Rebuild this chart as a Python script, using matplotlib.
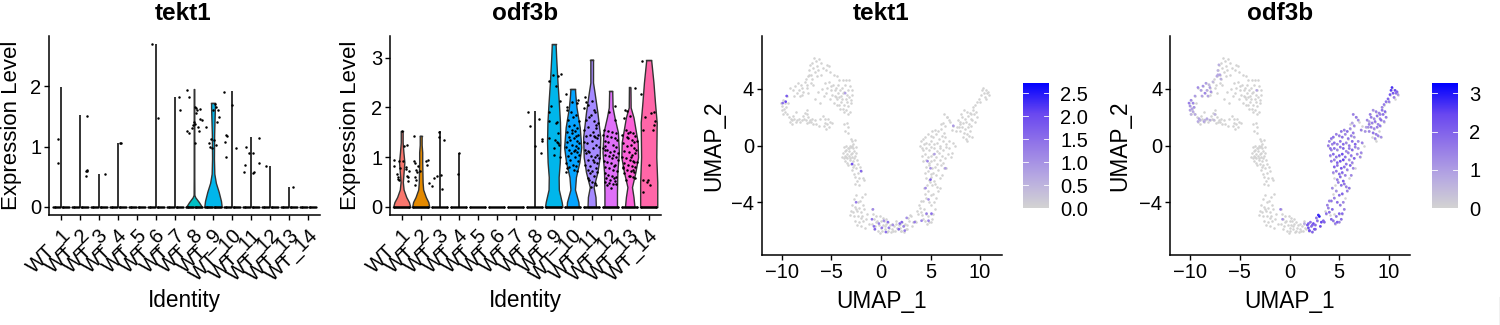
import numpy as np
import matplotlib
matplotlib.use("Agg")
import matplotlib.pyplot as plt
from matplotlib.colors import LinearSegmentedColormap
from matplotlib.lines import Line2D

plt.rcParams['font.family'] = ['Liberation Sans', 'DejaVu Sans']

groups = ['WT_%d' % i for i in range(1, 15)]
group_colors = ['#F8766D', '#E38900', '#C49A00', '#99A800', '#53B400', '#00BC56', '#00C094',
                '#00BFC4', '#00B6EB', '#06A4FF', '#A58AFF', '#DF70F8', '#FB61D7', '#FF66A8']

zero_offsets = [-0.43, -0.38, -0.34, -0.29, -0.25, -0.21, -0.15, -0.1, -0.04, 0.03, 0.08, 0.13,
                0.18, 0.22, 0.27, 0.32, 0.36, 0.41]

# highest value per group, drawn as the thin violin line
tekt1_tops = [1.98, 1.52, 0.55, 1.05, 0, 2.7, 1.82, 1.95, 1.72, 1.92, 1.15, 0.68, 0.33, 0]
odf3b_tops = [1.52, 1.43, 1.52, 1.08, 0, 0, 0, 1.92, 3.27, 2.37, 2.96, 2.33, 2.4, 2.95]

# violin outlines: group index -> levels and half widths
tekt1_levels = {7: [0, 0.08, 0.16, 0.2, 0.5, 1.0, 1.95],
                8: [0, 0.1, 0.25, 0.4, 0.55, 0.8, 1.2, 1.65, 1.72]}
tekt1_widths = {7: [0.42, 0.26, 0.07, 0.02, 0.015, 0.015, 0.015],
                8: [0.46, 0.42, 0.3, 0.15, 0.07, 0.05, 0.06, 0.1, 0.1]}
odf3b_levels = {0: [0, 0.1, 0.2, 0.35, 0.5, 0.7, 0.9, 1.1, 1.3, 1.52],
                1: [0, 0.1, 0.2, 0.35, 0.5, 0.7, 0.9, 1.1, 1.25, 1.43],
                8: [0, 0.1, 0.35, 0.6, 0.9, 1.3, 1.7, 2.1, 2.5, 3.0, 3.27],
                9: [0, 0.1, 0.35, 0.6, 0.9, 1.2, 1.6, 2.0, 2.25, 2.37],
                10: [0, 0.2, 0.4, 0.7, 1.0, 1.4, 1.9, 2.3, 2.5, 2.96],
                11: [0, 0.3, 0.7, 1.1, 1.5, 1.8, 2.0, 2.33],
                12: [0, 0.2, 0.4, 0.7, 1.0, 1.3, 1.8, 2.0, 2.4],
                13: [0, 0.5, 1.0, 1.7, 2.1, 2.5, 2.8, 2.95]}
odf3b_widths = {0: [0.45, 0.38, 0.24, 0.1, 0.06, 0.1, 0.14, 0.09, 0.05, 0.05],
                1: [0.45, 0.4, 0.27, 0.13, 0.1, 0.09, 0.08, 0.08, 0.05, 0.05],
                8: [0.46, 0.42, 0.27, 0.26, 0.32, 0.35, 0.33, 0.27, 0.2, 0.13, 0.1],
                9: [0.32, 0.3, 0.12, 0.17, 0.35, 0.45, 0.37, 0.2, 0.14, 0.12],
                10: [0.22, 0.2, 0.1, 0.3, 0.42, 0.45, 0.3, 0.15, 0.07, 0.07],
                11: [0.33, 0.33, 0.35, 0.43, 0.38, 0.2, 0.1, 0.08],
                12: [0.25, 0.2, 0.12, 0.3, 0.44, 0.42, 0.2, 0.05, 0.04],
                13: [0.45, 0.45, 0.4, 0.42, 0.33, 0.25, 0.17, 0.13]}

# jittered non-zero cells: group index -> offsets and values
tekt1_dx = {0: [-0.16, -0.16], 1: [0.35, 0.3, 0.35, 0.34, 0.37], 2: [0.32], 3: [0.1, 0.14],
            5: [-0.2, 0.08], 6: [0.2, 0.28],
            7: [-0.35, -0.28, -0.25, -0.38, 0.06, 0.12, 0.18, 0.3, 0.32, 0.4, 0.04, -0.05, -0.1, 0.09,
                0.2, 0.28, 0.05, 0.01],
            8: [-0.35, -0.2, -0.15, -0.1, 0.1, 0.18, 0.25, 0.3, 0.05, 0.15, 0.22, -0.05, 0.0],
            9: [-0.4, -0.35, -0.33, -0.3, -0.26, -0.02, 0.22],
            10: [-0.38, -0.3, -0.27, -0.08, 0.08, 0.1, 0.15, 0.4, 0.4], 11: [-0.22], 12: [0.2]}
tekt1_dv = {0: [1.13, 0.73], 1: [1.51, 0.6, 0.61, 0.51, 0.6], 2: [0.54], 3: [1.05, 1.05],
            5: [2.69, 1.47], 6: [1.81, 1.6],
            7: [1.94, 1.82, 1.23, 1.25, 1.65, 1.63, 1.6, 1.62, 1.45, 1.43, 1.38, 1.35, 1.3, 1.55,
                1.33, 1.25, 1.05, 1.4],
            8: [1.33, 1.05, 1.0, 1.13, 1.7, 1.65, 1.6, 1.48, 1.1, 1.02, 1.4, 0.98, 1.6],
            9: [1.9, 1.08, 0.82, 1.19, 1.18, 1.69, 0.97],
            10: [0.58, 0.7, 1.0, 0.9, 0.89, 0.57, 0.58, 1.14, 0.72], 11: [0.67], 12: [0.33]}
odf3b_dx = {0: [-0.4, -0.38, -0.25, -0.22, -0.2, -0.15, -0.12, 0.02, 0.1, 0.22, 0.25, 0.3, 0.33, 0.35, 0.05,
                0.28, 0.38, -0.08],
            1: [-0.35, -0.33, -0.28, -0.25, -0.22, -0.28, -0.3, -0.15, -0.05, 0.3, 0.38, 0.35, 0.43, 0.62, -0.27],
            2: [-0.15, -0.28, -0.05, 0.08, 0.1, 0.24, -0.02],
            3: [0.0, -0.05], 7: [-0.35, -0.27, 0.02, 0.2, 0.32, 0.37, 0.4],
            8: [-0.23, -0.05, 0.23, 0.37, 0.12, 0.35, -0.14, -0.26, -0.23, 0.12, 0.23, -0.23, 0.07, 0.2, 0.28, 0.16,
                0.03, 0.32, 0.03, 0.18],
            9: [-0.37, -0.05, 0.3, -0.3, -0.1, 0.2, -0.25, 0.02, 0.33, -0.2, 0.08, 0.25, -0.3, 0.12, -0.05, 0.3, 0.18,
                -0.22, -0.12, 0.05, 0.22, 0.35, -0.28, -0.02, 0.15, 0.28, -0.35, -0.18, 0.08, -0.08, 0.2, 0.32, -0.25,
                0.1, -0.12, 0.27, -0.33, 0.02, 0.15, -0.2, 0.06, 0.22, -0.32, -0.34, -0.28, 0.18, -0.03, 0.12],
            10: [-0.33, -0.3, -0.22, 0.04, 0.12, -0.05, 0.18, -0.4, -0.28, -0.15, 0.1, 0.25, 0.33, -0.38, -0.2, 0.05, 0.2,
                 0.35, -0.3, -0.1, 0.15, 0.28, -0.42, -0.25, 0.0, 0.22, 0.4, -0.35, -0.18, 0.08, 0.3, -0.28, -0.05, 0.17,
                 0.37, -0.22, 0.1, 0.3, -0.35, -0.08, 0.2, -0.2, 0.03, 0.27, -0.1, 0.13, -0.22, -0.12, 0.02, 0.18, 0.25,
                 -0.05, 0.1, -0.15, 0.05],
            11: [0.22, -0.1, 0.2, -0.33, -0.15, 0.05, 0.28, -0.38, -0.22, 0.0, 0.2, 0.35, -0.32, -0.12, 0.1, 0.3, -0.38,
                 -0.22, -0.03, 0.17, 0.4, -0.3, -0.1, 0.08, 0.28, 0.38, -0.35, -0.18, 0.02, 0.22, -0.28, -0.08, 0.13, 0.33,
                 -0.3, -0.12, 0.07, 0.28, -0.25, -0.05, 0.2, -0.3, -0.1, 0.1, 0.3, -0.22, 0.02, 0.15, -0.32, -0.28, 0.1, 0.18],
            12: [0.27, -0.25, -0.15, 0.0, -0.32, -0.2, 0.03, 0.15, 0.28, -0.38, -0.1, 0.1, 0.25, 0.4, -0.35, -0.15, 0.05,
                 0.22, 0.35, -0.3, -0.05, 0.12, 0.3, -0.4, -0.22, 0.02, 0.18, 0.38, -0.28, -0.1, 0.1, 0.27, -0.35, -0.12,
                 0.05, 0.23, -0.3, -0.05, 0.15, 0.3, -0.22, 0.0, 0.18, -0.15, 0.07, 0.25, -0.35, -0.1],
            13: [-0.33, -0.38, 0.12, 0.3, 0.35, -0.28, 0.3, 0.2, -0.18, 0.0, -0.32, -0.1, -0.3, -0.05, 0.05]}
odf3b_dv = {0: [0.95, 0.82, 0.66, 0.6, 0.57, 0.93, 0.55, 1.52, 1.22, 0.8, 0.76, 0.62, 0.6, 0.52, 0.92, 1.25, 0.72, 0.78],
            1: [1.43, 0.92, 0.88, 0.75, 0.7, 0.6, 0.45, 0.82, 0.72, 0.92, 0.95, 0.85, 0.49, 0.43, 0.55],
            2: [0.62, 0.58, 1.5, 0.65, 0.36, 1.35, 1.4],
            3: [1.08, 0.67], 7: [1.91, 1.63, 1.23, 1.76, 1.08, 1.32, 1.36],
            8: [2.54, 2.66, 2.64, 2.68, 2.43, 2.12, 2.02, 1.9, 1.72, 1.68, 1.48, 1.39, 1.34, 1.29, 1.25, 1.3, 1.04,
                1.0, 1.19, 1.7],
            9: [2.27, 2.1, 2.15, 1.95, 1.9, 2.08, 1.75, 1.8, 1.72, 1.62, 1.65, 1.58, 1.5, 1.52, 1.55, 1.45, 1.42, 1.4,
                1.35, 1.38, 1.33, 1.28, 1.3, 1.25, 1.22, 1.18, 1.2, 1.15, 1.12, 1.08, 1.1, 1.05, 1.02, 1.0, 0.95, 0.92,
                0.88, 0.85, 0.82, 0.8, 0.75, 0.72, 0.78, 0.7, 2.0, 1.85, 1.48, 1.15],
            10: [2.2, 2.1, 2.05, 2.12, 1.95, 1.85, 1.9, 1.98, 1.75, 1.8, 1.72, 1.65, 1.68, 1.55, 1.6, 1.5, 1.58, 1.45,
                 1.42, 1.44, 1.4, 1.38, 1.3, 1.28, 1.32, 1.25, 1.2, 1.15, 1.12, 1.18, 1.05, 1.08, 1.02, 1.0, 0.98, 0.95,
                 0.9, 0.88, 0.85, 0.82, 0.78, 0.75, 0.72, 0.7, 0.68, 0.62, 0.58, 0.55, 0.5, 0.48, 0.45, 0.4, 1.42, 1.1,
                 0.95],
            11: [2.03, 1.9, 1.75, 1.55, 1.52, 1.5, 1.48, 1.45, 1.42, 1.4, 1.38, 1.35, 1.32, 1.3, 1.25, 1.2, 1.18, 1.15,
                 1.1, 1.12, 1.08, 1.05, 1.02, 0.98, 1.0, 0.95, 0.92, 0.9, 0.88, 0.85, 0.8, 0.78, 0.75, 0.72, 0.68, 0.65,
                 0.62, 0.6, 0.58, 0.55, 0.52, 0.5, 0.48, 0.46, 0.47, 0.45, 0.38, 0.58, 1.22, 1.15, 1.05, 0.82],
            12: [2.39, 1.95, 1.92, 1.82, 1.78, 1.55, 1.5, 1.48, 1.42, 1.45, 1.38, 1.35, 1.3, 1.32, 1.28, 1.22, 1.25,
                 1.18, 1.15, 1.12, 1.1, 1.05, 1.08, 1.0, 0.98, 0.95, 0.92, 0.9, 0.88, 0.85, 0.82, 0.8, 0.78, 0.75, 0.72,
                 0.7, 0.68, 0.62, 0.6, 0.58, 0.55, 0.62, 0.75, 1.4, 1.0, 0.9, 0.8, 1.48],
            13: [2.93, 2.27, 1.88, 1.9, 1.72, 1.55, 1.65, 1.55, 1.8, 0.84, 0.3, 0.5, 0.55, 0.55, 0.45]}

# cell embedding, read region by region
left_x = [-10.1, -10.0, -9.9, -9.8, -9.7, -9.5, -9.6, -9.4, -10.0, -9.7,
          -9.9, -9.5, -9.3, -9.1, -9.0, -8.8, -8.6, -8.9, -8.5, -8.3,
          -8.2, -8.0, -7.8, -7.6, -7.9, -7.5, -7.3, -7.5, -7.7, -7.2,
          -9.2, -8.9, -8.7, -8.5, -8.3, -8.1, -7.9, -8.8, -8.4, -8.0,
          -7.7, -7.5, -7.3, -7.0, -7.2, -6.9, -6.7, -6.5, -6.2, -6.0,
          -6.9, -7.1, -6.4, -5.8, -5.4, -5.2, -5.5, -6.6, -7.2, -7.0,
          -6.4, -6.0, -7.3, -6.8, -5.1, -4.7, -4.4, -4.2, -3.8, -3.5,
          -3.2, -3.6, -3.1, -3.9, -4.3, -2.9, -3.3, -3.7, -2.9, -3.2,
          -3.5, -4.0, -4.3, -4.6, -5.0, -5.4, -5.6, -5.2, -5.0, -5.5,
          -5.1, -4.7, -4.2, -3.7, -3.3, -3.0, -3.5, -3.7, -4.1, -4.6,
          -5.7, -6.3, -6.6, -6.1, -7.0, -6.8, -5.9, -7.4, -6.5, -6.1,
          -5.6, -5.2, -5.5, -5.3, -5.6, -5.1, -4.9, -5.4, -5.7, -6.2,
          -6.6, -6.9, -4.4, -4.0, -3.4, -3.0, -3.8, -3.1, -4.4, -5.8,
          -8.0, -7.6, -7.4, -6.8, -6.3, -4.8, -4.5, -4.1, -3.9, -3.4,
          -4.9, -4.5, -4.2, -3.8, -3.3, -8.2, -7.1, -8.6, -9.2, -9.0]
left_y = [3.0, 2.8, 3.2, 2.6, 3.0, 3.5, 2.7, 3.0, 2.5, 2.4,
          2.2, 2.2, 2.0, 1.9, 1.8, 1.9, 1.7, 2.1, 1.8, 1.9,
          1.7, 1.8, 1.9, 1.8, 2.1, 2.2, 2.0, 2.5, 2.3, 1.7,
          4.1, 3.9, 4.2, 3.7, 3.9, 4.3, 3.8, 3.5, 4.4, 3.6,
          4.5, 4.1, 3.7, 4.4, 5.0, 4.7, 6.2, 6.0, 6.1, 5.8,
          5.8, 5.7, 5.6, 5.5, 5.7, 5.6, 5.3, 5.2, 5.3, 5.0,
          4.9, 5.0, 4.9, 4.3, 5.2, 5.0, 4.9, 4.6, 4.6, 4.6,
          4.6, 4.3, 4.2, 4.1, 4.3, 3.9, 3.9, 3.8, 3.6, 3.4,
          3.3, 3.5, 3.7, 3.9, 3.9, 4.1, 4.4, 4.5, 4.2, 3.7,
          3.3, 3.0, 2.9, 2.9, 2.8, 3.0, 2.5, 2.4, 2.6, 3.5,
          3.5, 3.8, 3.3, 3.0, 1.7, 1.5, 4.0, 1.6, 1.5, 1.9,
          1.6, 1.3, 1.2, 1.9, 1.9, 1.7, 1.6, 1.5, 1.4, 1.4,
          1.8, 1.9, 3.3, 3.1, 3.1, 3.2, 3.7, 2.4, 2.9, 2.1,
          4.1, 4.7, 4.3, 5.5, 5.3, 4.3, 4.1, 3.9, 3.3, 3.6,
          3.6, 3.4, 3.4, 2.6, 2.2, 3.5, 1.8, 2.4, 1.7, 1.5]
left_odf3b = [1.5, 1.2, 1.3, 0.9, 1.4, 1.0, 1.2, 0, 0.9, 0.8,
              0.6, 0.8, 0, 0.9, 0.7, 0, 0.9, 0, 0.6, 0.8,
              0, 0.7, 0, 0.4, 0, 0.6, 0, 0, 0, 0,
              1.3, 1.0, 1.2, 1.4, 0.8, 0.5, 1.2, 0.9, 1.0, 0,
              0.5, 0, 0, 0, 0.8, 0.7, 0, 0, 0, 0,
              0, 0.7, 0, 0, 0, 0, 0, 0, 0.6, 0.9,
              0, 0, 0.8, 0, 0, 0, 0, 0, 0, 0,
              0, 0, 0, 0, 0, 0, 0.8, 0, 0, 0,
              0, 0, 0, 0, 0, 0, 0, 0, 0, 0,
              0, 0, 0, 0, 0, 0, 0, 0, 0, 0,
              0, 0, 0, 0, 0, 0, 0, 0, 0, 0,
              0, 0, 0, 0, 0, 0, 0, 0, 0, 0,
              0, 0, 0, 0, 0, 0, 0, 0, 0, 0,
              1.0, 0, 0, 0, 0, 0, 0, 0, 0, 0,
              0, 0, 0, 0, 0, 0.9, 0, 0, 0.8, 0]

mid_x = [-3.7, -3.4, -3.3, -3.6, -3.3, -3.0, -2.9, -2.6, -2.8, -3.1,
         -3.7, -3.5, -3.3, -3.0, -2.8, -2.5, -3.8, -3.6, -3.4, -3.2,
         -2.9, -2.7, -3.9, -3.7, -3.5, -3.2, -2.9, -2.6, -3.6, -3.4,
         -3.1, -2.8, -2.4, -3.3, -3.0, -2.7, -2.3, -2.9, -2.5, -2.1,
         -2.7, -2.3, -2.0, -2.6, -2.2, -1.8, -2.4, -2.6, -2.2, -1.7,
         -3.5, -3.2, -2.9, -3.6, -3.0, -2.7, -3.4, -3.1, -2.5, -2.8]
mid_y = [1.5, 1.6, 1.3, 1.0, 0.9, 0.5, 0.3, 0.4, 0.1, 0.0,
         -0.1, 0.0, -0.2, -0.1, -0.2, -0.1, -0.5, -0.4, -0.6, -0.4,
         -0.5, -0.4, -0.8, -0.9, -0.8, -0.7, -0.8, -0.7, -1.1, -1.2,
         -1.0, -1.1, -1.0, -1.4, -1.3, -1.4, -1.3, -1.7, -1.6, -1.5,
         -2.0, -1.9, -1.8, -2.2, -2.3, -2.3, -2.5, -2.7, -2.8, -2.4,
         -0.3, -0.2, 0.0, -0.7, -0.6, -0.9, -0.9, -0.9, -0.5, -1.5]

low_x = [-2.5, -2.7, -2.3, -2.1, -1.9, -2.9, -2.6, -2.2, -1.8, -1.6,
         -3.0, -2.8, -2.4, -2.0, -1.7, -3.1, -2.7, -2.3, -2.0, -2.6,
         -2.2, -1.8, -2.4, -2.0, -1.5, -1.2, -1.6, -1.9, -1.4, -2.5]
low_y = [-3.5, -3.8, -4.0, -3.9, -3.6, -4.2, -4.3, -4.4, -4.2, -3.4,
         -4.6, -4.7, -4.6, -4.7, -4.5, -4.9, -5.0, -5.0, -5.1, -5.3,
         -5.4, -5.3, -5.6, -5.7, -5.2, -5.5, -5.8, -5.0, -4.8, -4.5]

bottom_x = [-0.9, -0.8, -0.7, -0.9, -0.6, -0.7, -0.5, -0.4, -0.2, 0.0,
            0.2, 0.3, 0.5, 0.7, -0.3, -0.1, 0.1, 0.4, 0.6, 0.8,
            -0.5, -0.1, 0.2, 0.5, 0.9, 1.1, 1.3, 1.5, 1.7, 1.9,
            1.0, 1.2, 1.4, 1.6, 1.8, 2.0, 2.2, 2.4, 2.6, 2.8,
            1.1, 1.5, 1.9, 2.1, 2.3, 2.5, 2.7, 3.0, 3.2, 3.4,
            2.0, 2.3, 2.6, 2.9, 3.1, 3.5, 3.7, 0.0, 0.4, 0.7]
bottom_y = [-4.5, -4.8, -5.2, -5.5, -5.7, -5.9, -5.0, -5.3, -5.6, -5.8,
            -5.1, -5.3, -5.5, -5.4, -6.0, -6.2, -6.0, -5.9, -6.1, -5.8,
            -5.4, -5.0, -5.6, -5.2, -5.6, -5.9, -5.7, -5.5, -5.9, -5.5,
            -6.1, -6.0, -6.0, -5.8, -5.6, -6.0, -5.7, -5.5, -5.9, -5.3,
            -5.5, -5.3, -5.8, -5.4, -5.6, -5.9, -5.1, -5.0, -5.4, -5.3,
            -6.0, -6.1, -5.6, -4.9, -5.7, -5.4, -4.8, -5.3, -5.7, -6.0]
bottom_odf3b = [1.5, 0, 1.2, 0, 0, 0, 0, 0, 0, 0,
                0, 0, 0, 0, 0, 0, 0, 0, 0, 0,
                0, 0, 0, 0, 0, 0, 0, 0.8, 0, 2.0,
                0, 0, 0, 0, 2.2, 2.0, 1.8, 2.4, 2.0, 1.8,
                0, 0, 2.3, 1.8, 2.0, 2.2, 1.7, 3.0, 2.5, 2.0,
                2.3, 2.0, 1.9, 2.8, 2.4, 2.0, 1.8, 0, 0, 0]

right_x = [3.9, 4.0, 4.2, 4.4, 4.1, 4.6, 4.3, 4.8, 5.0, 5.2,
           4.5, 4.7, 5.0, 5.3, 5.5, 4.2, 4.5, 4.8, 5.1, 5.4,
           3.6, 3.8, 4.0, 4.4, 4.7, 5.0, 5.3, 5.6, 5.8, 6.0,
           4.3, 4.6, 4.9, 5.2, 5.5, 5.7, 4.5, 4.8, 5.1, 5.4,
           4.4, 4.7, 5.0, 5.3, 5.6, 6.0, 6.2, 4.5, 4.8, 5.2,
           5.5, 5.8, 6.1, 6.4, 4.2, 4.5, 4.8, 5.1, 5.4, 5.7,
           6.0, 6.3, 6.6, 4.1, 4.4, 4.7, 5.0, 5.3, 5.6, 5.9,
           6.2, 6.5, 6.8, 7.1, 4.2, 4.5, 4.8, 5.1, 5.4, 5.7,
           6.0, 6.3, 6.6, 6.9, 7.2, 3.9, 4.1, 4.3, 4.0, 4.2,
           4.5, 4.8, 5.1, 5.4, 5.7, 6.0, 6.3, 6.6, 6.9, 7.3,
           7.5, 4.4, 4.7, 5.0, 5.3, 5.6, 5.9, 6.2, 6.5, 5.2,
           5.5, 5.8, 6.1, 6.4, 6.1, 6.3, 6.5, 6.7, 6.9, 7.0,
           7.3, 7.2, 6.4, 6.7, 7.7, 8.0, 7.8, 8.1, 8.4, 8.7,
           9.0, 9.3, 9.6, 8.2, 8.5, 8.8, 9.1, 9.4, 9.7, 8.0,
           8.3, 8.6, 8.9, 9.2, 9.5, 7.9, 8.2, 8.5, 8.8, 9.1,
           7.6, 8.0, 8.4, 8.7, 9.0, 8.3, 8.6, 8.9, 9.2, 8.7,
           9.1, 9.3, 9.5, 9.7, 9.9, 10.0, 10.2, 10.4, 10.6, 10.8,
           10.1, 10.3, 10.5, 10.7, 10.9, 10.6]
right_y = [-4.4, -4.7, -5.2, -5.3, -4.9, -5.5, -4.5, -5.4, -5.4, -5.2,
           -4.8, -5.0, -4.8, -4.8, -4.5, -3.9, -3.7, -4.0, -4.2, -4.0,
           -4.6, -4.2, -3.9, -3.4, -3.2, -3.5, -3.4, -3.7, -3.2, -3.0,
           -3.0, -2.8, -2.6, -2.8, -2.7, -2.9, -2.3, -2.4, -2.2, -2.5,
           -1.9, -1.8, -2.0, -1.9, -2.1, -2.3, -2.1, -1.5, -1.4, -1.6,
           -1.5, -1.7, -1.4, -1.6, -1.1, -1.0, -1.2, -1.1, -1.0, -1.3,
           -1.0, -1.2, -1.6, -0.7, -0.6, -0.8, -0.7, -0.6, -0.8, -0.5,
           -0.7, -0.9, -0.6, -0.8, -0.3, -0.2, -0.3, -0.1, -0.2, -0.4,
           -0.2, -0.3, -0.1, -0.2, -0.5, 0.0, -0.2, 0.1, 0.3, 0.5,
           0.2, 0.1, 0.3, 0.1, 0.2, 0.0, 0.3, 0.1, 0.3, 0.2,
           0.0, 0.6, 0.8, 0.7, 0.6, 0.8, 0.5, 0.7, 0.6, 1.0,
           1.1, 1.0, 1.2, 0.9, 1.5, 1.6, 1.4, 2.0, 1.8, 1.7,
           1.4, 1.1, 2.2, 2.0, 1.3, 1.5, 1.8, 2.2, 2.5, 2.4,
           2.3, 2.5, 2.4, 2.0, 1.9, 2.1, 1.9, 2.2, 2.0, 1.7,
           1.6, 1.7, 1.5, 1.8, 1.7, 1.3, 1.3, 1.2, 1.3, 1.4,
           1.0, 1.0, 0.9, 0.8, 1.0, 0.6, 0.5, 0.7, 0.6, 0.3,
           2.2, 2.7, 2.9, 3.1, 3.3, 3.1, 3.9, 3.7, 3.9, 3.8,
           3.6, 4.1, 3.4, 3.7, 3.6, 3.3]
right_odf3b = [1.5, 1.8, 2.0, 1.7, 0, 1.6, 1.9, 2.1, 1.5, 1.8,
               0, 1.6, 2.0, 1.9, 1.5, 1.7, 1.5, 1.8, 1.6, 1.4,
               0, 1.5, 1.4, 0, 1.2, 1.8, 2.0, 0, 1.5, 1.7,
               1.3, 0, 1.5, 1.8, 1.7, 1.5, 0, 1.6, 1.9, 2.1,
               1.4, 1.6, 1.8, 2.0, 1.5, 0, 1.4, 2.0, 1.7, 2.2,
               1.8, 1.5, 2.0, 1.4, 1.7, 1.5, 2.0, 2.3, 2.5, 1.7,
               1.3, 1.5, 0, 1.6, 1.9, 1.7, 2.1, 2.4, 1.8, 1.5,
               1.7, 2.0, 1.4, 1.3, 1.5, 1.8, 1.4, 1.7, 2.0, 1.3,
               1.6, 1.9, 1.5, 1.2, 1.4, 1.6, 1.8, 1.5, 1.4, 1.7,
               1.8, 1.5, 1.7, 1.9, 1.4, 1.6, 1.8, 2.0, 1.3, 1.5,
               0, 1.8, 1.5, 1.6, 1.8, 1.4, 1.7, 1.5, 1.2, 1.7,
               1.5, 1.8, 1.4, 1.6, 0, 0.9, 1.4, 1.6, 1.3, 0,
               0, 1.5, 1.5, 0, 0.9, 1.5, 1.4, 1.6, 1.2, 1.5,
               1.4, 1.7, 1.9, 1.6, 1.3, 1.7, 1.5, 1.8, 1.6, 0.9,
               1.5, 1.7, 1.4, 1.8, 1.3, 1.2, 1.6, 1.4, 1.5, 1.7,
               1.2, 1.4, 1.7, 1.5, 0, 0, 1.3, 1.5, 1.2, 0,
               1.5, 1.4, 1.6, 1.7, 2.0, 1.5, 2.6, 2.2, 2.4, 2.0,
               2.3, 2.7, 1.6, 1.8, 1.2, 0]

# cells with tekt1 signal
tekt1_x = [-9.5, -9.6, -9.9, -3.6, -2.9, -2.0, -2.5, -0.8, -0.9, -0.7, -0.6, -0.2, 0.1, 0.3, 0.7, 0.5, 0.8, 1.2, 1.9,
           2.1, 1.8, 2.3, 2.4, 2.6, 3.4, 4.1, 4.6, 5.1, 4.8, 4.8, 5.0, 4.5, 4.7, 5.0, 5.4, 6.5, 7.3]
tekt1_y = [3.5, 3.1, 3.0, 3.7, -1.3, -1.8, -4.0, -4.5, -5.2, -5.7, -5.9, -5.5, -5.8, -5.3, -5.4, -6.1, -5.8, -5.6, -5.5,
           -5.4, -5.9, -5.7, -6.0, -5.1, -5.4, -5.3, -4.8, -4.8, -5.3, -3.8, -2.4, -3.0, -1.1, -1.6, -0.6, -1.6, 1.4]
tekt1_level = [1.8, 2.0, 1.5, 0.8, 1.9, 1.6, 1.3, 1.1, 1.4, 1.5, 1.6, 1.2, 1.4, 1.0, 1.5, 1.5, 1.3, 1.0, 1.6,
               1.6, 1.6, 1.2, 1.3, 1.0, 1.3, 1.2, 1.3, 1.5, 1.2, 1.0, 1.7, 1.1, 1.2, 1.0, 0.8, 0.8, 0.9]

cells_x = np.array(left_x + mid_x + low_x + bottom_x + right_x)
cells_y = np.array(left_y + mid_y + low_y + bottom_y + right_y)
odf3b_level = np.array(left_odf3b + [0] * len(mid_x) + [0] * len(low_x) + bottom_odf3b + right_odf3b)

W, H = 1500, 325
feature_cmap = LinearSegmentedColormap.from_list('feature', ['#D3D3D3', '#B6A8E2', '#9478E8', '#6A48F0', '#0000FF'])


def px_axes(fig, left, right, top, bottom):
    return fig.add_axes([left / W, 1 - bottom / H, (right - left) / W, (bottom - top) / H])


def clean_axes(ax):
    ax.spines['top'].set_visible(False)
    ax.spines['right'].set_visible(False)
    ax.spines['left'].set_linewidth(1.1)
    ax.spines['bottom'].set_linewidth(1.1)
    ax.tick_params(labelsize=14.5, width=1.0, length=3.5, pad=2)


def violin_panel(fig, left, label_right, first_tick, y0_px, px_per_unit, tops, levels, widths, dx, dv, yticks):
    right = left + 271
    ax = px_axes(fig, left, right, 36, 215)
    ax.set_xlim((left - first_tick) / 19 + 1, (right - first_tick) / 19 + 1)
    ax.set_ylim((y0_px - 215) / px_per_unit, (y0_px - 36) / px_per_unit)
    for i, top in enumerate(tops):
        pos = i + 1
        if i in levels:
            lv = np.array(levels[i])
            wd = np.array(widths[i])
            ax.fill_betweenx(lv, pos - wd, pos + wd, facecolor=group_colors[i], edgecolor='#333333',
                             linewidth=1.0, zorder=2)
            ax.plot([pos - wd[0], pos + wd[0]], [0, 0], color='#333333', lw=1.0, zorder=2)
            ax.plot([pos - wd[-1], pos + wd[-1]], [lv[-1], lv[-1]], color='#333333', lw=1.0, zorder=2)
        else:
            ax.plot([pos, pos], [0, top], color='#333333', lw=1.4, zorder=2, solid_capstyle='butt')
        ax.scatter([pos + d for d in zero_offsets], [0] * len(zero_offsets), s=2.6, color='black',
                   linewidths=0, zorder=3)
        if i in dx:
            ax.scatter([pos + d for d in dx[i]], dv[i], s=3.2, color='black', linewidths=0, zorder=3)
    clean_axes(ax)
    ax.set_xticks(range(1, 15))
    ax.set_xticklabels(groups, rotation=45, ha='right', va='top', rotation_mode='anchor')
    ax.set_yticks(yticks)
    ax.tick_params(axis='x', pad=4)
    ax.set_xlabel('Identity', fontsize=16.3)
    ax.xaxis.set_label_coords(0.5, -0.415)
    ax.set_ylabel('Expression Level', fontsize=16)
    ax.yaxis.set_label_coords((label_right - left) / 271, 0.5)
    return ax


def feature_panel(fig, left, right, label_right, px_per_unit, x_at_minus10, hx, hy, hv, vmax, cbar_left,
                  cbar_ticks, cbar_fmt):
    ax = px_axes(fig, left, right, 36, 255)
    ax.set_xlim((left - x_at_minus10) / px_per_unit - 10, (right - x_at_minus10) / px_per_unit - 10)
    ax.set_ylim((145.6 - 255) / 14.17, (145.6 - 36) / 14.17)
    ax.scatter(cells_x, cells_y, s=3.4, color=feature_cmap(0.0), linewidths=0, zorder=2)
    ax.scatter(hx, hy, c=hv, s=3.8, cmap=feature_cmap, vmin=0, vmax=vmax, linewidths=0, zorder=3)
    clean_axes(ax)
    ax.set_xticks([-10, -5, 0, 5, 10])
    ax.set_yticks([-4, 0, 4])
    ax.set_xlabel('UMAP_1', fontsize=16.3)
    ax.xaxis.set_label_coords(0.5, -0.16)
    ax.set_ylabel('UMAP_2', fontsize=16.3)
    ax.yaxis.set_label_coords((label_right - left) / (right - left), 0.5)

    cax = px_axes(fig, cbar_left, cbar_left + 26, 83, 208)
    cax.imshow(np.linspace(1, 0, 200).reshape(-1, 1), cmap=feature_cmap, aspect='auto',
               extent=[0, 1, 0, vmax], vmin=0, vmax=1)
    for s in cax.spines.values():
        s.set_visible(False)
    cax.set_xticks([])
    cax.yaxis.tick_right()
    cax.set_yticks(cbar_ticks)
    cax.set_yticklabels([cbar_fmt % t for t in cbar_ticks])
    cax.tick_params(axis='y', labelsize=14.5, length=0, pad=8)
    for t in cbar_ticks:
        cax.plot([0, 0.2], [t, t], color='white', lw=0.6)
        cax.plot([0.8, 1], [t, t], color='white', lw=0.6)
    cax.set_xlim(0, 1)
    cax.set_ylim(0, vmax)
    return ax


fig = plt.figure(figsize=(W / 100, H / 100), dpi=100)

violin_panel(fig, 49, 22, 61, 207, 60.5, tekt1_tops, tekt1_levels, tekt1_widths, tekt1_dx, tekt1_dv, [0, 1, 2])
violin_panel(fig, 390, 361, 401.7, 207, 49.8, odf3b_tops, odf3b_levels, odf3b_widths, odf3b_dx, odf3b_dv,
             [0, 1, 2, 3])

feature_panel(fig, 761.7, 1001.7, 725, 9.92, 781.7, tekt1_x, tekt1_y, tekt1_level, 2.72, 1023,
              [0, 0.5, 1, 1.5, 2, 2.5], '%.1f')
feature_panel(fig, 1170, 1410, 1131, 9.95, 1190, cells_x[odf3b_level > 0], cells_y[odf3b_level > 0],
              odf3b_level[odf3b_level > 0], 3.27, 1432, [0, 1, 2, 3], '%d')

titles = ['tekt1', 'odf3b', 'tekt1', 'odf3b']
title_x = [183, 525, 881, 1280]
for name, tx in zip(titles, title_x):
    fig.text(tx / W, 1 - 13 / H, name, fontsize=17.5, fontweight='bold', ha='center', va='center')

# stray edge line at the lower right of the source image
fig.add_artist(Line2D([1499.5 / W, 1499.5 / W], [0, 1 - 297 / H], color='black', lw=0.8))

fig.savefig('out.png', dpi=100)
